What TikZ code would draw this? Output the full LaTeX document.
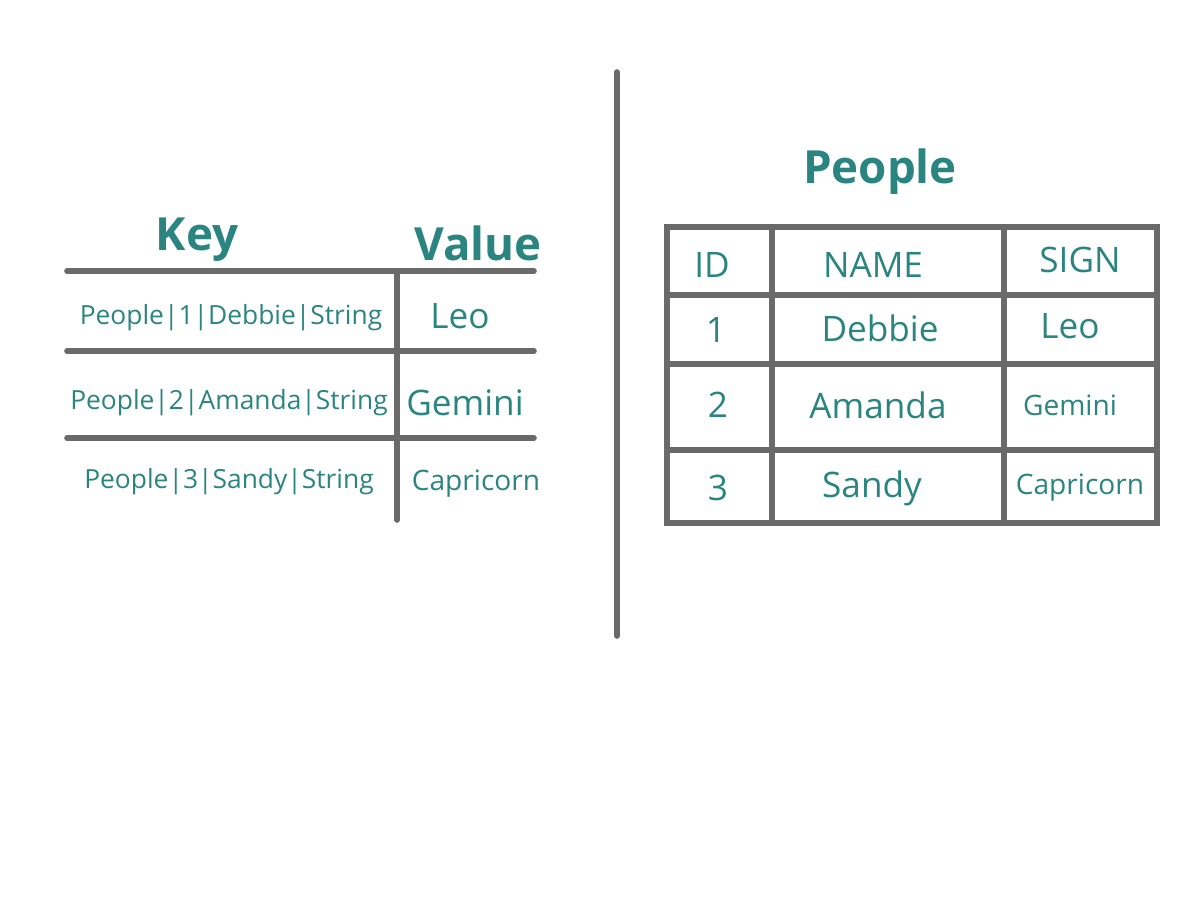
\documentclass[tikz,border=0pt]{standalone}
\usepackage{fontspec}
\setmainfont{Open Sans}
\usepackage{xcolor}
\definecolor{ink}{HTML}{2A8580}
\definecolor{rule}{HTML}{6A6A6A}
\begin{document}
\begin{tikzpicture}[x=0.02cm,y=-0.02cm,
    grid/.style={draw=rule,line width=3.2pt,line cap=round},
    txt/.style={text=ink,inner sep=0pt,font=\fontsize{20}{22}\selectfont},
    smalltxt/.style={txt,font=\fontsize{16}{18}\selectfont},
    keytxt/.style={txt,font=\fontsize{15}{17}\selectfont},
    head/.style={txt,font=\fontsize{26}{28}\selectfont\bfseries}]
\useasboundingbox (0,0) rectangle (1200,899);
% divider
\draw[grid] (617,72) -- (617,636);
% key/value table
\node[head,name=khead] at (197,240) {Key};
\node[head,name=vhead] at (478,243) {Value};
\foreach \y in {271,351,438}
  \draw[grid] (67,\y) -- (534,\y);
\draw[grid] (397,271) -- (397,520);
\node[keytxt,name=k1] at (231,318) {People|1|Debbie|String};
\node[keytxt,name=k2] at (229,403) {People|2|Amanda|String};
\node[keytxt,name=k3] at (229,482) {People|3|Sandy|String};
\node[txt,name=v1] at (460,316) {Leo};
\node[txt,name=v2] at (465,403) {Gemini};
\node[smalltxt,name=v3] at (476,484) {Capricorn};
% relational table
\node[head,name=title] at (880,172) {People};
\draw[grid] (667,227) rectangle (1157,523);
\foreach \y in {295,364,450}
  \draw[grid] (667,\y) -- (1157,\y);
\foreach \x in {772,1004}
  \draw[grid] (\x,227) -- (\x,523);
\node[txt,name=hid] at (712,265) {ID};
\node[txt,name=hname] at (873,265) {NAME};
\node[txt,name=hsign] at (1080,260) {SIGN};
\node[txt,name=id1] at (716,330) {1};
\node[txt,name=n1] at (880,328) {Debbie};
\node[txt,name=s1] at (1070,326) {Leo};
\node[txt,name=id2] at (718,405) {2};
\node[txt,name=n2] at (878,405) {Amanda};
\node[smalltxt,name=s2] at (1070,405) {Gemini};
\node[txt,name=id3] at (718,488) {3};
\node[txt,name=n3] at (872,488) {Sandy};
\node[smalltxt,name=s3] at (1080,488) {Capricorn};
\end{tikzpicture}
\end{document}
